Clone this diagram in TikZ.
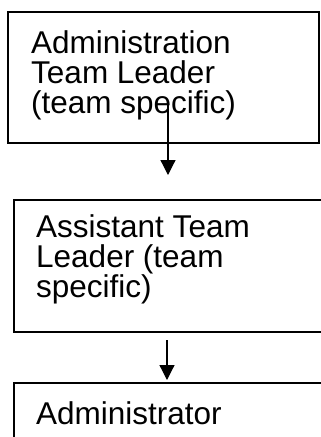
\documentclass[tikz,border=0pt]{standalone}
\usepackage{fontspec}
\setmainfont{Liberation Sans}
\usetikzlibrary{arrows.meta}
\begin{document}
\begin{tikzpicture}[x=1pt,y=1pt,
  boxline/.style={draw=black,line width=1.3pt},
  txt/.style={anchor=base west,inner sep=0pt,font=\fontsize{31.5}{30}\selectfont},
  conn/.style={line width=1.2pt,-{Triangle[length=15pt,width=15pt]}}]
\useasboundingbox (0,0) rectangle (321,-437);
% boxes
\draw[boxline] (8,-12) rectangle (319,-143);
\draw[boxline] (14,-200) rectangle (340,-332);
\draw[boxline] (14,-383) rectangle (340,-460);
% texts
\node[txt] (t1) at (31,-53) {Administration};
\node[txt] (t2) at (31,-83) {Team Leader};
\node[txt] (t3) at (31,-113) {(team specific)};
\node[txt] (u1) at (36,-237) {Assistant Team};
\node[txt] (u2) at (36,-267) {Leader (team};
\node[txt] (u3) at (36,-297) {specific)};
\node[txt] (v1) at (36,-424) {Administrator};
% connectors
\coordinate (c1s) at (168,-102);
\coordinate (c1e) at (168,-175);
\coordinate (c2s) at (167,-340);
\coordinate (c2e) at (167,-380);
\draw[conn] (c1s) -- (c1e);
\draw[conn] (c2s) -- (c2e);
\end{tikzpicture}
\end{document}
